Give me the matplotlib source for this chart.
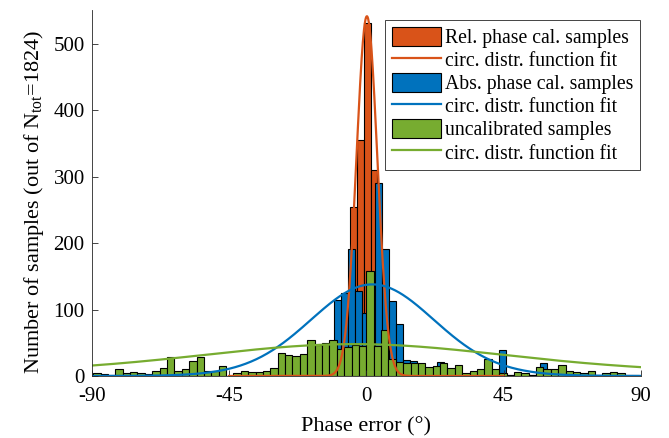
import numpy as np
import matplotlib.pyplot as plt
from matplotlib.patches import Patch
from matplotlib.lines import Line2D

plt.rcParams['font.family'] = ['Liberation Serif', 'DejaVu Serif']
plt.rcParams['mathtext.fontset'] = 'custom'
plt.rcParams['mathtext.rm'] = 'Liberation Serif'
plt.rcParams['mathtext.it'] = 'Liberation Serif:italic'
plt.rcParams['axes.unicode_minus'] = False

# relative phase calibration histogram (deg bins)
rel_edges = np.arange(-12.075, 12.7, 2.25)
rel_counts = [3, 10, 70, 255, 355, 532, 310, 170, 60, 15, 5]

# absolute phase calibration histogram
abs_edges = np.arange(-19.5, 61.6, 2.25)
abs_counts = [3, 5, 12, 35, 115, 125, 191, 128, 95, 124, 291, 191, 113, 79,
              24, 23, 12, 10, 8, 21, 10, 6, 3, 3, 6, 7, 6, 5, 39, 1, 1, 3,
              2, 2, 19, 5]

# uncalibrated samples
unc_edges = np.linspace(-89.5, 89.5, 75)
unc_counts = [5, 3, 2, 11, 5, 6, 4, 3, 8, 12,
              29, 8, 10, 22, 29, 8, 8, 15, 0, 5,
              8, 6, 6, 8, 12, 35, 32, 30, 33, 54,
              47, 50, 54, 40, 44, 46, 45, 158, 45, 69,
              26, 21, 19, 20, 19, 14, 15, 19, 12, 16,
              4, 8, 10, 25, 11, 5, 2, 6, 5, 2,
              14, 10, 10, 17, 8, 6, 4, 8, 1, 5,
              6, 4, 2, 2]

# circular distribution fits: amplitude, mean (deg), concentration, range
rel_fit = (542, 0.2, 280, (-45, 45))
abs_fit = (138, 2.0, 8.0, (-90, 90))
unc_fit = (48, -4.0, 1.2, (-90, 90))

c_rel = '#D95319'
c_abs = '#0072BD'
c_unc = '#77AC30'


def circ_fit(params):
    amp, mu, kappa, (lo, hi) = params
    x = np.linspace(lo, hi, 721)
    return x, amp * np.exp(kappa * (np.cos(np.deg2rad(x - mu)) - 1))


fig = plt.figure(figsize=(6.69, 4.38), dpi=100)
ax = fig.add_axes([0.137, 0.1416, 0.821, 0.835])

for edges, counts, col in [(rel_edges, rel_counts, c_rel),
                           (abs_edges, abs_counts, c_abs),
                           (unc_edges, unc_counts, c_unc)]:
    ax.bar(edges[:-1], counts, width=np.diff(edges), align='edge',
           color=col, edgecolor='black', linewidth=0.8)

for params, col in [(rel_fit, c_rel), (abs_fit, c_abs), (unc_fit, c_unc)]:
    x, y = circ_fit(params)
    ax.plot(x, y, color=col, linewidth=1.6)

ax.set_xlim(-90, 90)
ax.set_ylim(0, 551)
ax.set_xticks([-90, -45, 0, 45, 90])
ax.set_yticks([0, 100, 200, 300, 400, 500])
ax.spines['top'].set_visible(False)
ax.spines['right'].set_visible(False)
for s in ['left', 'bottom']:
    ax.spines[s].set_color('#262626')
    ax.spines[s].set_linewidth(0.6)
ax.tick_params(direction='in', length=4, width=0.6, colors='#262626',
               labelsize=15, labelcolor='black')
ax.tick_params(axis='x', pad=8)
ax.tick_params(axis='y', pad=5)

ax.set_xlabel('Phase error (°)', fontsize=16, labelpad=8)
ax.set_ylabel(r'Number of samples (out of N$_\mathrm{tot}$=1824)',
              fontsize=16)
ax.yaxis.set_label_coords(-0.083, 0.475)

handles = [
    Patch(facecolor=c_rel, edgecolor='black', linewidth=0.8),
    Line2D([], [], color=c_rel, linewidth=1.6),
    Patch(facecolor=c_abs, edgecolor='black', linewidth=0.8),
    Line2D([], [], color=c_abs, linewidth=1.6),
    Patch(facecolor=c_unc, edgecolor='black', linewidth=0.8),
    Line2D([], [], color=c_unc, linewidth=1.6),
]
labels = ['Rel. phase cal. samples', 'circ. distr. function fit',
          'Abs. phase cal. samples', 'circ. distr. function fit',
          'uncalibrated samples', 'circ. distr. function fit']
leg = ax.legend(handles, labels, loc='upper right',
                bbox_to_anchor=(0.957, 0.955), bbox_transform=fig.transFigure,
                fontsize=14.2, fancybox=False, framealpha=1,
                edgecolor='#262626', handlelength=2.5, handleheight=1.1,
                handletextpad=0.2, labelspacing=0.1, borderpad=0.35,
                borderaxespad=0)
leg.get_frame().set_linewidth(0.6)

fig.savefig('out.png', dpi=100)
